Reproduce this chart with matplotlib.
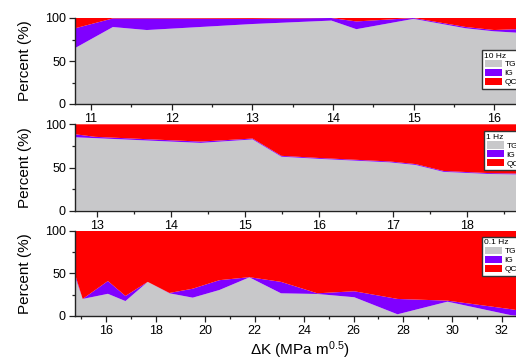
"""Fractions de faciès de rupture (TG / IG / QC) en fonction de dK, trois fréquences."""

import matplotlib
matplotlib.use("Agg")
import matplotlib.pyplot as plt
from matplotlib.ticker import MultipleLocator

plt.rcParams["font.family"] = ["Liberation Sans", "DejaVu Sans"]
plt.rcParams["mathtext.fontset"] = "custom"
plt.rcParams["mathtext.rm"] = "Liberation Sans"
plt.rcParams["mathtext.default"] = "regular"

COLORS = ["#c8c8ca", "#8000ff", "#ff0000"]
LABELS = ["TG", "IG", "QC"]

# 10 Hz
dk_10 = [10.8, 11.27, 11.69, 13.0, 13.98, 14.29, 15.0, 15.65, 16.0, 16.27]
tg_10 = [65, 89.5, 86, 93, 97, 87, 99, 88, 84.5, 83]
ig_10 = [23, 10, 13.5, 6, 3, 9, 1, 1.5, 1.5, 4]
qc_10 = [12, 0.5, 0.5, 1, 0, 4, 0, 10.5, 14, 13]

# 1 Hz
dk_1 = [12.7, 12.97, 14.0, 14.4, 15.1, 15.49, 16.0, 16.95, 17.3, 17.68, 18.3, 18.66]
tg_1 = [85, 84, 80, 78.5, 82.5, 62.5, 60, 56, 53, 45, 42.5, 42]
ig_1 = [3.5, 1.5, 1.5, 1.5, 1, 1, 1, 1, 1, 1, 1, 1]
qc_1 = [11.5, 14.5, 18.5, 20, 16.5, 36.5, 39, 43, 46, 54, 56.5, 57]

# 0.1 Hz
dk_01 = [14.72, 15.05, 16.07, 16.78, 17.68, 18.56, 19.5, 20.58, 21.79,
         23.07, 24.54, 26.03, 27.78, 29.8, 32.36, 32.57]
tg_01 = [48, 20, 26, 17.5, 40, 26.6, 21.5, 30.5, 45.3,
         26.6, 25.8, 22, 2, 16.8, 1, 0.5]
ig_01 = [3, 0, 15, 6, 0, 0.4, 10.5, 11.5, 0.2,
         13.4, 0.8, 7, 18, 1.2, 7, 6.5]
qc_01 = [49, 80, 59, 76.5, 60, 73, 68, 58, 54.5,
         60, 73.4, 71, 80, 82, 92, 93]

W, H = 516, 363


def draw_panel(fig, rect_px, x, series, xlim, xmajor, xminor, title, leg_px, z):
    """Trace un panneau empilé et sa légende."""
    left, top, right, bottom = rect_px
    ax = fig.add_axes([left / W, 1 - bottom / H, (right - left) / W, (bottom - top) / H])
    ax.set_zorder(z)
    ax.patch.set_alpha(0)
    polys = ax.stackplot(x, *series, colors=COLORS, labels=LABELS, lw=0)
    ax.set_xlim(*xlim)
    ax.set_ylim(0, 100)
    ax.xaxis.set_major_locator(MultipleLocator(xmajor))
    ax.xaxis.set_minor_locator(MultipleLocator(xminor))
    ax.yaxis.set_major_locator(MultipleLocator(50))
    ax.yaxis.set_minor_locator(MultipleLocator(25))
    for side in ("top", "right"):
        ax.spines[side].set_visible(False)
    for side in ("left", "bottom"):
        ax.spines[side].set_linewidth(1.0)
        ax.spines[side].set_color("#222222")
    ax.tick_params(which="major", direction="out", length=4, width=0.9,
                   labelsize=9, pad=2.5, color="#222222")
    ax.tick_params(which="minor", direction="out", length=2.5, width=0.9,
                   color="#222222")
    ax.set_ylabel("Percent (%)", fontsize=11)
    ax.yaxis.set_label_coords(-0.098, 0.5)

    # légende coupée au bord droit, comme sur la figure d'origine
    leg = ax.legend(handles=polys, labels=LABELS, title=title,
                    loc="upper left", bbox_to_anchor=(leg_px[0] / W, 1 - leg_px[1] / H),
                    bbox_transform=fig.transFigure, borderaxespad=0,
                    fontsize=6, title_fontsize=6, alignment="left",
                    fancybox=False, framealpha=1, edgecolor="#333333",
                    handlelength=2.1, handleheight=0.95, labelspacing=0.05,
                    handletextpad=0.3, borderpad=0.3)
    leg.get_frame().set_linewidth(1.0)
    return ax


def main() -> None:
    fig = plt.figure(figsize=(W / 100, H / 100), dpi=100)

    draw_panel(fig, (75, 18, 516, 104), dk_10, [tg_10, ig_10, qc_10],
               (10.8, 16.27), 1, 0.5, "10 Hz", (482, 50), 3)
    draw_panel(fig, (75, 124.3, 516, 210.7), dk_1, [tg_1, ig_1, qc_1],
               (12.7, 18.66), 1, 0.5, "1 Hz", (484, 131.5), 2)
    ax3 = draw_panel(fig, (75, 230.7, 516, 316), dk_01, [tg_01, ig_01, qc_01],
                     (14.74, 32.57), 2, 1, "0.1 Hz", (482, 237), 1)
    ax3.set_xlabel(r"ΔK (MPa m$^{0.5}$)", fontsize=11)
    ax3.xaxis.set_label_coords(0.51, -0.28)

    fig.savefig("out.png", dpi=100)
    plt.close(fig)


if __name__ == "__main__":
    main()
